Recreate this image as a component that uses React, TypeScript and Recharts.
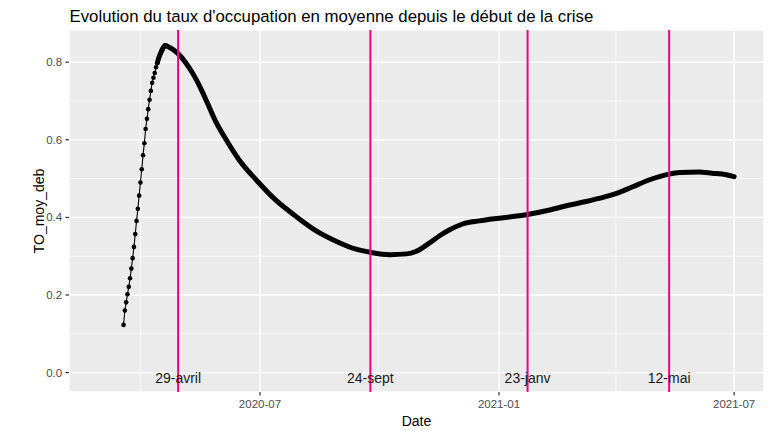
import React from 'react';
import { ComposedChart, Line, XAxis, YAxis, CartesianGrid, ReferenceLine, Scatter } from 'recharts';

// Rising phase: daily points (individually visible)
const riseDates = [
  '2020-03-18', '2020-03-19', '2020-03-20', '2020-03-21', '2020-03-22', '2020-03-23', '2020-03-24',
  '2020-03-25', '2020-03-26', '2020-03-27', '2020-03-28', '2020-03-29', '2020-03-30', '2020-03-31',
  '2020-04-01', '2020-04-02', '2020-04-03', '2020-04-04', '2020-04-05', '2020-04-06', '2020-04-07',
  '2020-04-08', '2020-04-09', '2020-04-10', '2020-04-11', '2020-04-12', '2020-04-13', '2020-04-14',
  '2020-04-15', '2020-04-16', '2020-04-17', '2020-04-18', '2020-04-19', '2020-04-20',
];
const riseValues = [
  0.123, 0.160, 0.181, 0.202, 0.221, 0.243, 0.268,
  0.295, 0.324, 0.357, 0.391, 0.422, 0.456, 0.490,
  0.524, 0.560, 0.591, 0.628, 0.654, 0.679, 0.703,
  0.726, 0.747, 0.760, 0.772, 0.787, 0.798, 0.810,
  0.819, 0.827, 0.834, 0.840, 0.843, 0.842,
];

// Dense phase: points merge into a thick curve
const trendDates = [
  '2020-04-13', '2020-04-14', '2020-04-15', '2020-04-16', '2020-04-17', '2020-04-18', '2020-04-19',
  '2020-04-20', '2020-04-24', '2020-04-29', '2020-05-05', '2020-05-09', '2020-05-13', '2020-05-17',
  '2020-05-21', '2020-05-28', '2020-06-05', '2020-06-15', '2020-06-28', '2020-07-13', '2020-07-29',
  '2020-08-13', '2020-08-29', '2020-09-13', '2020-09-24', '2020-10-09', '2020-10-22', '2020-10-29',
  '2020-11-08', '2020-11-16', '2020-11-24', '2020-12-04', '2020-12-17', '2021-01-01', '2021-01-22',
  '2021-02-09', '2021-02-22', '2021-03-09', '2021-03-19', '2021-04-01', '2021-04-14', '2021-04-27',
  '2021-05-11', '2021-05-20', '2021-06-04', '2021-06-14', '2021-06-25', '2021-07-01',
];
const trendValues = [
  0.798, 0.810, 0.819, 0.827, 0.834, 0.840, 0.843,
  0.842, 0.835, 0.822, 0.798, 0.778, 0.755, 0.728,
  0.699, 0.647, 0.600, 0.548, 0.497, 0.445, 0.402,
  0.366, 0.338, 0.318, 0.310, 0.304, 0.306, 0.312,
  0.333, 0.352, 0.368, 0.383, 0.391, 0.398, 0.407,
  0.419, 0.430, 0.441, 0.449, 0.461, 0.479, 0.497,
  0.511, 0.516, 0.517, 0.514, 0.510, 0.505,
];

const eventDates = ['2020-04-29', '2020-09-24', '2021-01-23', '2021-05-12'];
const eventLabels = ['29-avril', '24-sept', '23-janv', '12-mai'];

const xTickDates = ['2020-07-01', '2021-01-01', '2021-07-01'];
const xTickLabels = ['2020-07', '2021-01', '2021-07'];
const xMinorDates = ['2020-03-31', '2020-09-30', '2021-04-01'];
const xDomainDates = ['2020-02-05', '2021-07-24'];

const yTicks = [0, 0.2, 0.4, 0.6, 0.8];
const yMinorTicks = [0.1, 0.3, 0.5, 0.7];
const yDomain = [-0.05, 0.883];

const ts = (d: string) => Date.parse(d);

const riseData = riseDates.map((d, i) => ({ t: ts(d), v: riseValues[i] }));
const trendData = trendDates.map((d, i) => ({ t: ts(d), v: trendValues[i] }));
const eventData = eventDates.map((d, i) => ({ t: ts(d), v: 0, label: eventLabels[i] }));

const FONT = '"Liberation Sans", Arial, sans-serif';
const PINK = '#EC008C';

export default function App() {
  const xTicks = xTickDates.map(ts);
  return (
    <div style={{ position: 'absolute', left: 0, top: 0, width: 774, height: 431, fontFamily: FONT, background: '#fff' }}>
      <ComposedChart width={774} height={431} margin={{ top: 30, right: 10, bottom: 0, left: 0 }}>
        <CartesianGrid fill="#EBEBEB" stroke="#FFFFFF" strokeWidth={1.4} strokeDasharray="" />
        <XAxis
          type="number"
          dataKey="t"
          domain={[ts(xDomainDates[0]), ts(xDomainDates[1])]}
          allowDataOverflow
          ticks={xTicks}
          tickFormatter={(v: number) => xTickLabels[xTicks.indexOf(v)] ?? ''}
          axisLine={false}
          tickLine={{ stroke: '#333333', strokeWidth: 1.2 }}
          tickSize={3.6}
          tickMargin={4.6}
          height={39}
          tick={{ fill: '#4D4D4D', fontSize: 11.5, fontFamily: FONT }}
        />
        <YAxis
          type="number"
          domain={yDomain}
          allowDataOverflow
          ticks={yTicks}
          tickFormatter={(v: number) => v.toFixed(1)}
          axisLine={false}
          tickLine={{ stroke: '#333333', strokeWidth: 1.2 }}
          tickSize={3.6}
          tickMargin={3.2}
          width={69}
          tick={{ fill: '#4D4D4D', fontSize: 11.5, fontFamily: FONT }}
        />
        {xMinorDates.map((d) => (
          <ReferenceLine key={'xm' + d} x={ts(d)} stroke="#FFFFFF" strokeWidth={0.7} />
        ))}
        {yMinorTicks.map((v) => (
          <ReferenceLine key={'ym' + v} y={v} stroke="#FFFFFF" strokeWidth={0.7} />
        ))}
        <Line
          data={riseData}
          dataKey="v"
          type="linear"
          stroke="#000000"
          strokeWidth={1.1}
          dot={{ r: 2.3, fill: '#000000', stroke: 'none' }}
          isAnimationActive={false}
        />
        <Line
          data={trendData}
          dataKey="v"
          type="monotone"
          stroke="#000000"
          strokeWidth={5}
          strokeLinecap="round"
          strokeLinejoin="round"
          dot={false}
          isAnimationActive={false}
        />
        {eventDates.map((d) => (
          <ReferenceLine key={'ev' + d} x={ts(d)} stroke={PINK} strokeWidth={2} />
        ))}
        <Scatter
          data={eventData}
          dataKey="v"
          isAnimationActive={false}
          shape={(p: any) => (
            <text
              x={p.cx}
              y={p.cy + 10.8}
              textAnchor="middle"
              fontSize={14}
              fontFamily={FONT}
              fill="#1A1A1A"
            >
              {p.payload.label}
            </text>
          )}
        />
      </ComposedChart>
      <svg width={774} height={431} style={{ position: 'absolute', left: 0, top: 0, pointerEvents: 'none' }}>
        <text x={69.5} y={21.7} fontSize={16.8} fontFamily={FONT} fill="#000000">
          Evolution du taux d'occupation en moyenne depuis le début de la crise
        </text>
        <text x={416.5} y={426} fontSize={14} fontFamily={FONT} fill="#000000" textAnchor="middle">
          Date
        </text>
        <text
          x={43.5}
          y={211}
          fontSize={14}
          fontFamily={FONT}
          fill="#000000"
          textAnchor="middle"
          transform="rotate(-90 43.5 211)"
        >
          TO_moy_deb
        </text>
      </svg>
    </div>
  );
}
